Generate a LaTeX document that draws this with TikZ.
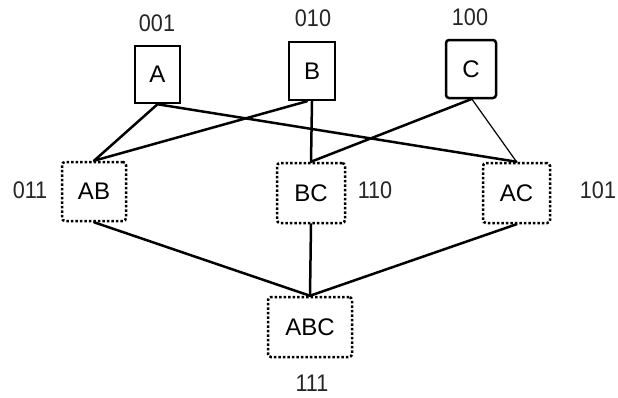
\documentclass[tikz,border=0pt]{standalone}
\usepackage{fontspec}
\setmainfont{Liberation Sans}
\usetikzlibrary{positioning}
\tikzset{
	setnode/.style={
			draw=black,
			line width=2.5pt,
			fill=white,
			inner sep=0pt,
			font=\fontsize{24}{28}\selectfont
		},
	pairnode/.style={
			setnode,
			line width=2.5pt,
			dash pattern=on 2.5pt off 2pt,
			rounded corners=3pt
		},
	codenode/.style={
			inner sep=0pt,
			text=black!85,
			xscale=0.9,
			font=\fontsize{24}{28}\selectfont
		},
	linkline/.style={
			line width=2.5pt,
			line cap=round
		}
}
\begin{document}
\begin{tikzpicture}[x=1pt, y=-1pt]
\useasboundingbox[fill=white] (0,0) rectangle (618,397);

% the three single sets
\coordinate (pA) at (157.5,74.5);
\coordinate (pB) at (312,71);
\coordinate (pC) at (471,69);

\node[setnode, minimum width=45pt, minimum height=57pt] (tA) at (pA) {A};
\node[setnode, minimum width=46pt, minimum height=58pt] (tB) at (pB) {B};
\node[setnode, minimum width=50pt, minimum height=58pt, rounded corners=3pt] (tC) at (pC) {C};

% unions
\node[pairnode, minimum width=64pt, minimum height=59pt] (tAB) at (94,191.5) {AB};
\node[pairnode, minimum width=68pt, minimum height=60pt] (tBC) at (311,193) {BC};
\node[pairnode, minimum width=67pt, minimum height=60pt] (tAC) at (516.5,193) {AC};
\node[pairnode, minimum width=84pt, minimum height=60pt] (tABC) at (310,327) {ABC};

% bit codes
\node[codenode, transform shape] (cA) at (157,23) {001};
\node[codenode, transform shape] (cB) at (313,18) {010};
\node[codenode, transform shape] (cC) at (470,17) {100};
\node[codenode, transform shape] (cAB) at (30,190) {011};
\node[codenode, transform shape] (cBC) at (375,190) {110};
\node[codenode, transform shape] (cAC) at (598,190) {101};
\node[codenode, transform shape] (cABC) at (312,383) {111};

\draw[linkline] (tA.south) -- (tAB.north);
\draw[linkline] (tA.south) -- (tAC.north);
\draw[linkline] ([xshift=-5pt]tB.south) -- (tAB.north);
\draw[linkline] (tB.south) -- (tBC.north);
\draw[linkline] (tC.south) -- (tBC.north);
\draw[line width=1.2pt] ([xshift=1pt]tC.south) -- (tAC.north);

\draw[linkline] (tAB.south) -- (tABC.north);
\draw[linkline] (tBC.south) -- (tABC.north);
\draw[linkline] (tAC.south) -- (tABC.north);

\end{tikzpicture}
\end{document}
